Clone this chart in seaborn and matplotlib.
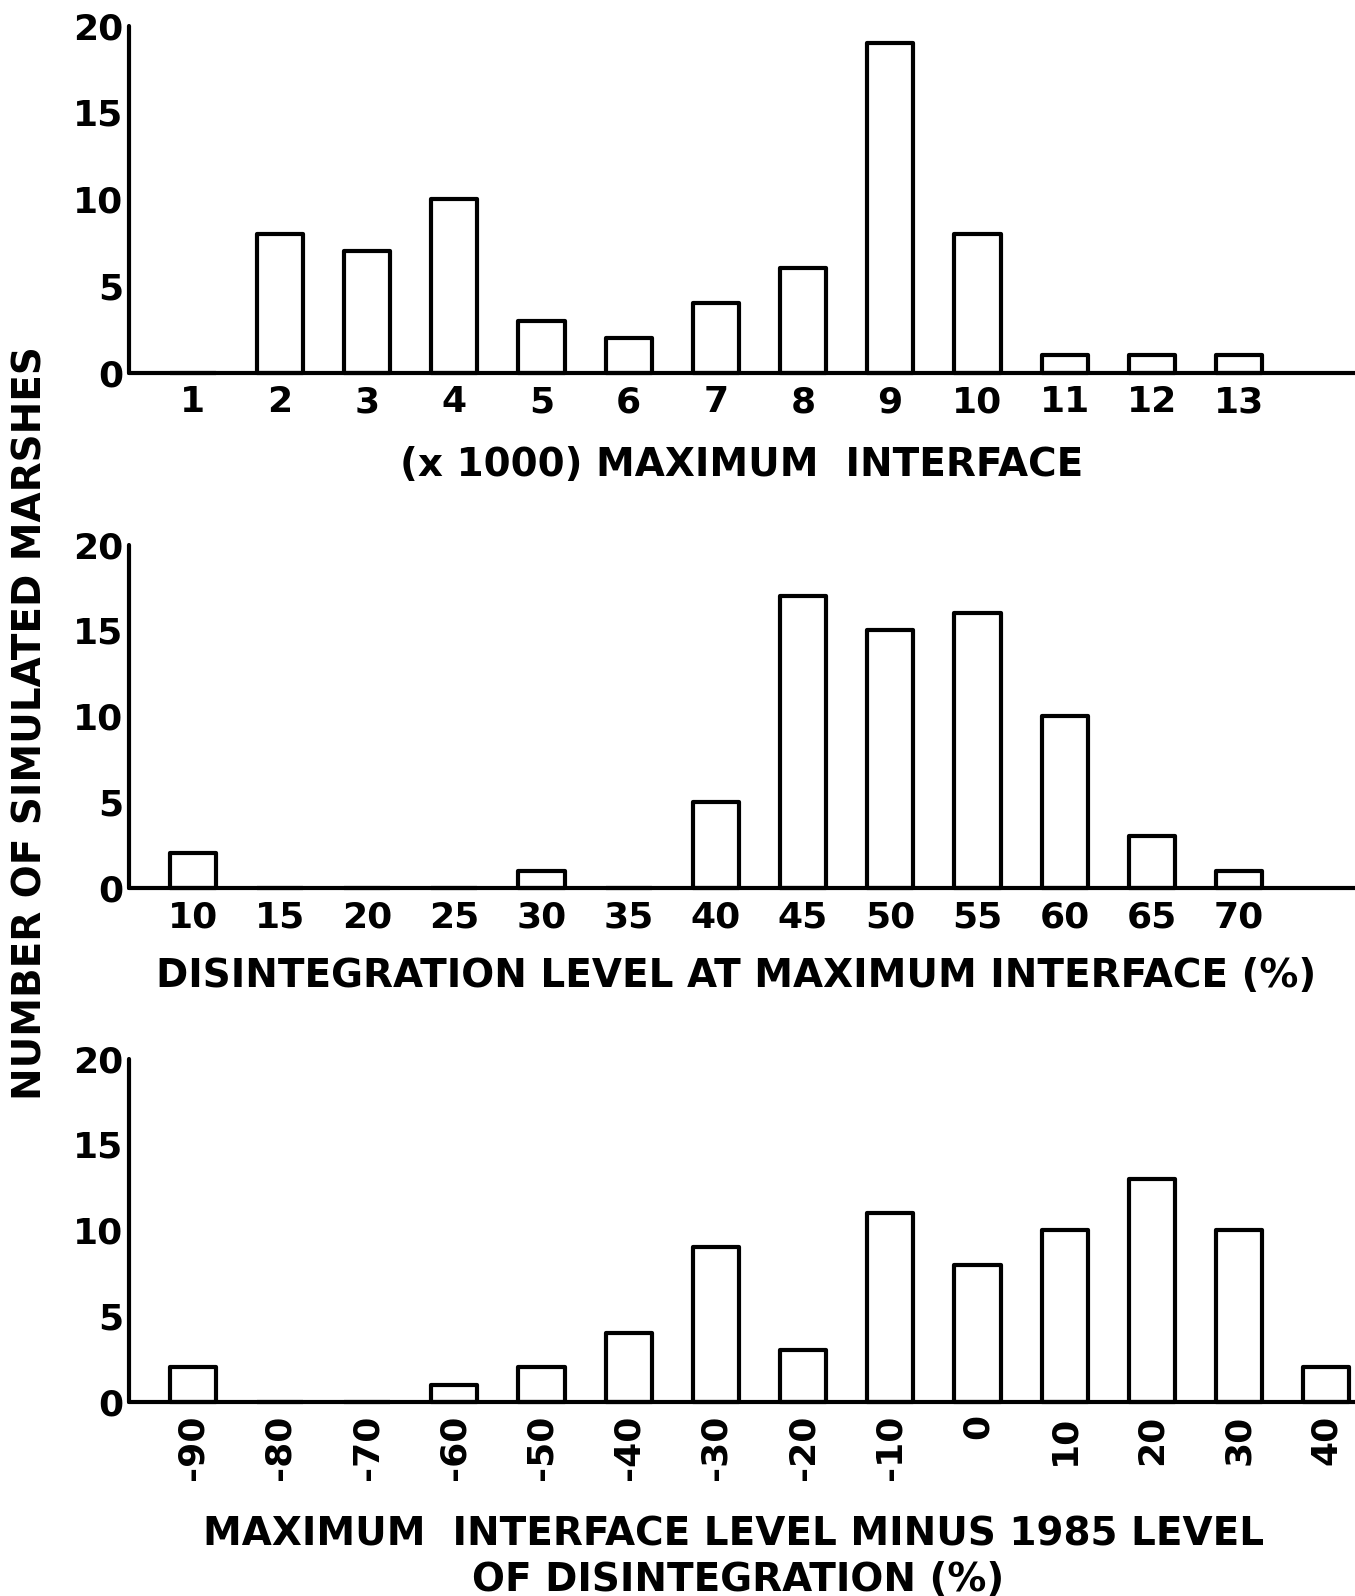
import matplotlib
matplotlib.use("Agg")
import matplotlib.pyplot as plt
import seaborn as sns
import pandas as pd

# ---- data ----
top_cats = ["1", "2", "3", "4", "5", "6", "7", "8", "9", "10", "11", "12", "13"]
top_vals = [0, 8, 7, 10, 3, 2, 4, 6, 19, 8, 1, 1, 1]

mid_cats = ["10", "15", "20", "25", "30", "35", "40", "45", "50", "55", "60", "65", "70"]
mid_vals = [2, 0, 0, 0, 1, 0, 5, 17, 15, 16, 10, 3, 1]

bot_cats = ["-90", "-80", "-70", "-60", "-50", "-40", "-30", "-20", "-10", "0", "10", "20", "30", "40"]
bot_vals = [2, 0, 0, 1, 2, 4, 9, 3, 11, 8, 10, 13, 10, 2]

y_ticks = [0, 5, 10, 15, 20]

top_xlabel = "(x 1000) MAXIMUM  INTERFACE"
mid_xlabel = "DISINTEGRATION LEVEL AT MAXIMUM INTERFACE (%)"
bot_xlabel1 = "MAXIMUM  INTERFACE LEVEL MINUS 1985 LEVEL"
bot_xlabel2 = "OF DISINTEGRATION (%)"
y_label = "NUMBER OF SIMULATED MARSHES"

sns.set_style("white")
plt.rcParams["font.family"] = ["DejaVu Sans"]
plt.rcParams["font.weight"] = "bold"
plt.rcParams["text.color"] = "black"
plt.rcParams["axes.labelcolor"] = "black"

W, H = 1355, 1596
fig = plt.figure(figsize=(W / 100, H / 100), dpi=100)

LW = 3.0
TICK_FS = 26
LABEL_FS = 28

left = 129 / W
width = 1 - left
panels = [
    (top_cats, top_vals, 372.6, 25.5, 0),
    (mid_cats, mid_vals, 887.7, 544.6, 0),
    (bot_cats, bot_vals, 1401.8, 1058.7, 90),
]
for cats, vals, y0, y20, rot in panels:
    ax = fig.add_axes([left, 1 - y0 / H, width, (y0 - y20) / H])
    df = pd.DataFrame({"cat": cats, "val": vals})
    sns.barplot(data=df, x="cat", y="val", order=cats, color="white", saturation=1,
                edgecolor="black", linewidth=LW, width=0.53, errorbar=None, ax=ax)
    for p in ax.patches:
        p.set_joinstyle("round")
        p.set_clip_on(False)
    ax.set_xlim(-0.73, 13.33)
    ax.set_ylim(0, 20)
    ax.set_yticks(y_ticks)
    ax.set_yticklabels([str(t) for t in y_ticks], fontsize=TICK_FS, fontweight="bold")
    ax.set_xticks(range(len(cats)))
    ax.set_xticklabels(cats, fontsize=TICK_FS, rotation=rot, fontweight="bold")
    ax.tick_params(axis="y", direction="in", length=11, width=LW, pad=4, colors="black")
    ax.tick_params(axis="x", length=0, pad=9, colors="black")
    for s in ["top", "right"]:
        ax.spines[s].set_visible(False)
    for s in ["left", "bottom"]:
        ax.spines[s].set_linewidth(LW)
        ax.spines[s].set_color("black")
        ax.spines[s].set_capstyle("round")
    ax.set_xlabel("")
    ax.set_ylabel("")
    ax.set_facecolor("white")

cx = (left + 1) / 2
kw = dict(ha="center", va="baseline", fontsize=LABEL_FS, fontweight="bold", color="black")
fig.text(cx, 1 - 476 / H, top_xlabel, **kw)
fig.text(cx - 6 / W, 1 - 987.5 / H, mid_xlabel, **kw)
fig.text(cx - 8 / W, 1 - 1545 / H, bot_xlabel1, **kw)
fig.text(cx - 4 / W, 1 - 1591 / H, bot_xlabel2, **kw)
fig.text(30.5 / W, 1 - 723 / H, y_label, rotation=90, ha="center", va="center",
         fontsize=LABEL_FS, fontweight="bold", color="black")

fig.savefig("out.png", dpi=100, facecolor="white")
